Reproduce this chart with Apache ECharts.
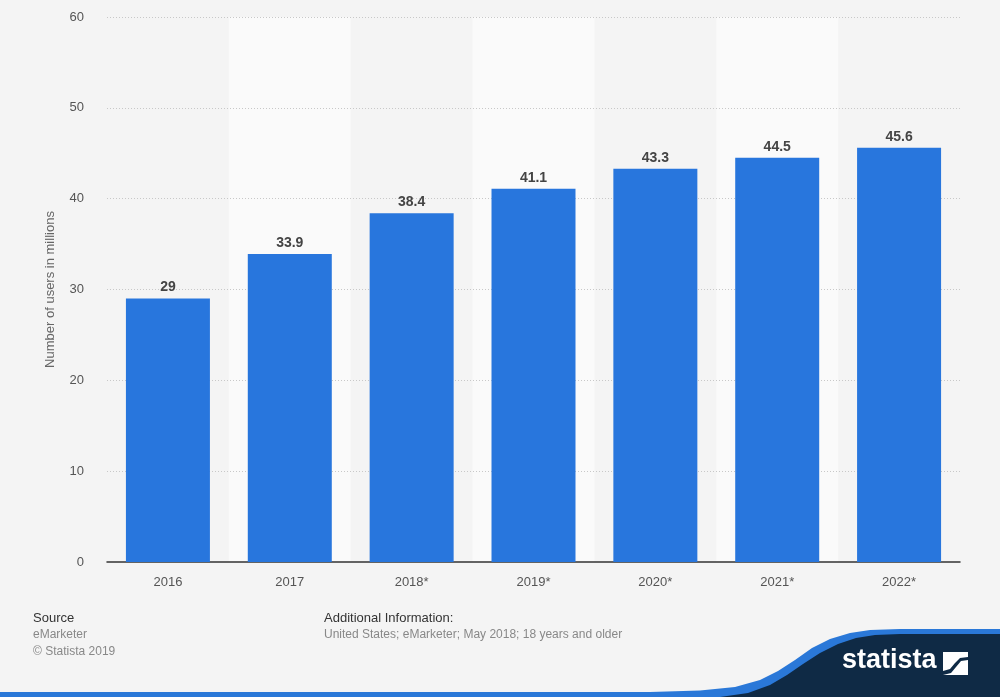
<!DOCTYPE html>
<html>
<head>
<meta charset="utf-8">
<script src="https://cdn.jsdelivr.net/npm/echarts@6/dist/echarts.min.js"></script>
<style>
html,body{margin:0;padding:0;background:#f4f4f4;}
#c{width:1000px;height:697px;}
</style>
</head>
<body>
<div id="c"></div>
<script>
const categories = ['2016','2017','2018*','2019*','2020*','2021*','2022*'];
const values = [29, 33.9, 38.4, 41.1, 43.3, 44.5, 45.6];
const yTicks = {min:0, max:60, interval:10};

const F = 'Liberation Sans, Arial, sans-serif';
const chart = echarts.init(document.getElementById('c'), null, {renderer:'canvas'});
chart.setOption({
  backgroundColor:'#f4f4f4',
  animation:false,
  grid:{left:107, right:40, top:17, bottom:135},
  xAxis:{
    type:'category',
    data:categories,
    z:0,
    axisLine:{lineStyle:{color:'#333', width:1.5}},
    axisTick:{show:false},
    axisLabel:{color:'#555', fontSize:13, fontFamily:F, margin:14},
    splitArea:{show:true, areaStyle:{color:['rgba(0,0,0,0)','#fafafa']}}
  },
  yAxis:{
    type:'value',
    z:1,
    min:yTicks.min, max:yTicks.max, interval:yTicks.interval,
    name:'Number of users in millions',
    nameLocation:'middle',
    nameGap:50,
    nameTextStyle:{color:'#666', fontSize:13, fontFamily:F},
    axisLine:{show:false},
    axisTick:{show:false},
    axisLabel:{color:'#555', fontSize:13, fontFamily:F, margin:23},
    splitLine:{showMinLine:false, lineStyle:{color:'#c8c8c8', type:[1,2], width:1}}
  },
  series:[{
    type:'bar',
    data:values,
    barWidth:84,
    z:3,
    itemStyle:{color:'#2876dd'},
    label:{show:true, position:'top', distance:4, color:'#444', fontWeight:'bold', fontSize:14, fontFamily:F}
  }],
  graphic:[
    {type:'text', left:33, top:612, style:{text:'Source', fill:'#333', font:'13px ' + F}},
    {type:'text', left:33, top:629, style:{text:'eMarketer', fill:'#888', font:'12px ' + F}},
    {type:'text', left:33, top:646, style:{text:'© Statista 2019', fill:'#888', font:'12px ' + F}},
    {type:'text', left:324, top:612, style:{text:'Additional Information:', fill:'#333', font:'13px ' + F}},
    {type:'text', left:324, top:629, style:{text:'United States; eMarketer; May 2018; 18 years and older', fill:'#888', font:'12px ' + F}},
    {type:'polygon', shape:{points:[[0,692],[650,692],[700,690.5],[735,687],[760,680],[778,671],[795,660],[812,648],[830,639],[850,633],[870,630],[900,629],[1000,629],[1000,697],[0,697]]}, style:{fill:'#2a78d8'}},
    {type:'polygon', shape:{points:[[720,697],[748,693],[770,685],[787,675],[803,664],[820,653],[838,644],[856,638],[875,635],[900,634],[1000,634],[1000,697]]}, style:{fill:'#0f2a45'}},
    {type:'text', left:842, top:647, style:{text:'statista', fill:'#fff', font:'bold 27px ' + F}},
    {type:'polygon', shape:{points:[[943,652],[968,652],[968,657],[960,658],[955,663],[950,669],[943,671]]}, style:{fill:'#fff'}},
    {type:'polygon', shape:{points:[[943,675],[968,675],[968,660],[961,661],[956,667],[951,673]]}, style:{fill:'#fff'}}
  ]
});
</script>
</body>
</html>
